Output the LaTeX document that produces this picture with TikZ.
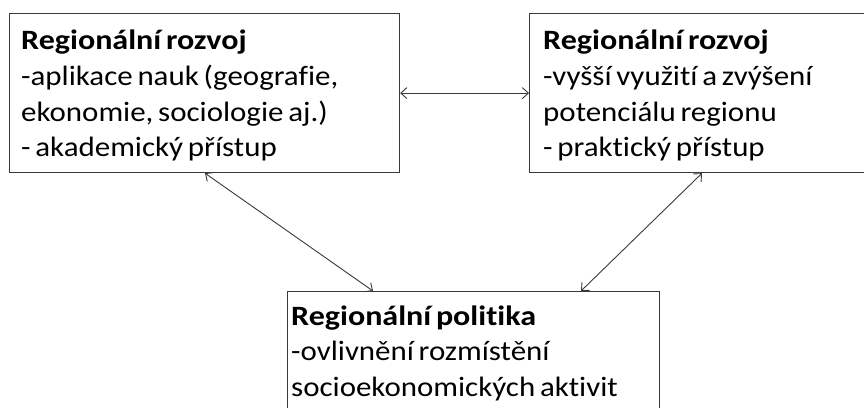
\documentclass[tikz,border=0pt]{standalone}
\usepackage{fontspec}
\setmainfont{Carlito}[Ligatures=NoCommon, FakeStretch=1.105,
  BoldFeatures={FakeStretch=1.145}]
\usetikzlibrary{arrows.meta}
\definecolor{edge}{HTML}{3A3A3A}
\newlength{\boxwordgap}
\tikzset{
  box/.style={draw=edge, line width=1.2pt, fill=white, inner sep=0pt, anchor=north west},
  txt/.style={anchor=base west, inner sep=0pt, text width=#1,
    font=\fontsize{28}{35.8}\selectfont, text=black,
    execute at begin node={\setlength{\boxwordgap}{0.17em}\spaceskip=\boxwordgap\relax}},
  link/.style={draw=edge, line width=0.9pt, {Straight Barb[length=6pt,width=11pt]}-{Straight Barb[length=6pt,width=11pt]}}
}
\begin{document}
\begin{tikzpicture}[x=1pt,y=-1pt]
  \useasboundingbox (0,0) rectangle (864,407);
  \clip (0,0) rectangle (864,407);
  \fill[white] (0,0) rectangle (864,407);

  % three boxes
  \node[box, minimum width=390pt, minimum height=159pt] (L) at (9,13) {};
  \node[box, minimum width=345pt, minimum height=159pt] (R) at (529,13) {};
  \node[box, minimum width=372pt, minimum height=140pt] (B) at (287,291) {};

  % box texts
  \node[txt=375pt] (Lt) at (21,49.5) {\textbf{Regionální rozvoj}\\-aplikace nauk (geografie,\\ekonomie, sociologie aj.)\\- akademický přístup};
  \node[txt=320pt] (Rt) at (543,49.5) {\textbf{Regionální rozvoj}\\-vyšší využití a zvýšení\\potenciálu regionu\\- praktický přístup};
  \node[txt=365pt] (Bt) at (291,325) {\textbf{Regionální politika}\\-ovlivnění rozmístění\\socioekonomických aktivit};

  % two-way links
  \draw[link] (L.east) -- (R.west);
  \draw[link] ([xshift=196pt]L.south west) -- ([xshift=86pt]B.north west);
  \draw[link] ([xshift=173pt]R.south west) -- ([xshift=294pt]B.north west);
\end{tikzpicture}
\end{document}
